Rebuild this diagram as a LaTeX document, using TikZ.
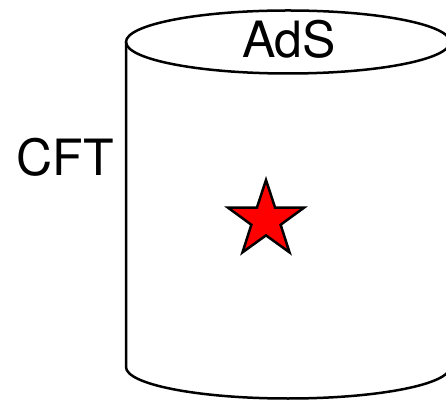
\documentclass[tikz,border=0pt]{standalone}
\usepackage{fontspec}
\setmainfont{TeX Gyre Heros}
\usetikzlibrary{shapes.geometric}

\begin{document}
\begin{tikzpicture}[x=1pt,y=1pt,line width=2.5pt,
    label/.style={font=\fontsize{50}{60}\selectfont,inner sep=0pt}]
  \useasboundingbox (0,0) rectangle (446,401);
  \clip (0,0) rectangle (446,401);
  \coordinate (T) at (288,359);
  \coordinate (TL) at (126,359);
  \coordinate (TR) at (450,359);
  \coordinate (BL) at (126,34);
  \coordinate (BR) at (450,34);
  % cylinder
  \draw (T) ellipse [x radius=162,y radius=31.5];
  \draw (TL) -- (BL) arc[start angle=180,end angle=360,x radius=162,y radius=31.5] -- (TR);
  % labels
  \node[label] (ads) at (289,362) {AdS};
  \node[label] (cft) at (65,243.5) {CFT};
  \node[star,star points=5,star point ratio=2.6,draw,fill=red,
    minimum size=80pt,inner sep=0pt] (bulk) at (266,181) {};
\end{tikzpicture}
\end{document}
